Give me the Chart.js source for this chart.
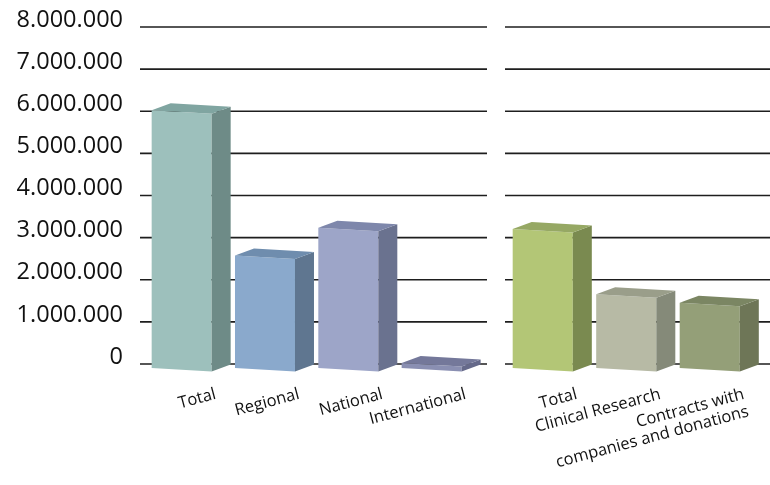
<!DOCTYPE html>
<html>
<head>
<meta charset="utf-8">
<script src="https://cdn.jsdelivr.net/npm/chart.js@4.4.1/dist/chart.umd.min.js"></script>
<style>
  html, body { margin: 0; padding: 0; background: #fff; }
  #wrap { position: relative; width: 770px; height: 485px; }
  #leftChart { position: absolute; left: 0; top: 0; }
  #rightChart { position: absolute; left: 495px; top: 0; }
</style>
</head>
<body>
<div id="wrap">
  <canvas id="leftChart" width="490" height="485"></canvas>
  <canvas id="rightChart" width="275" height="485"></canvas>
</div>
<script>
// data
const leftLabels = ['Total', 'Regional', 'National', 'International'];
const leftValues = [6120000, 2670000, 3330000, 120000];

const rightLabels = ['Total', 'Clinical Research', ['Contracts with', 'companies and donations']];
const rightValues = [3300000, 1750000, 1550000];

const yTicks = [0, 1000000, 2000000, 3000000, 4000000, 5000000, 6000000, 7000000, 8000000];

// colours of the 3d faces
const leftFront = ['#9dc0bc', '#8aa9cc', '#9da5c8', '#8a8fb2'];
const leftSide  = ['#6e8b87', '#5f7690', '#6a728f', '#65698a'];
const leftTop   = ['#80a5a1', '#6f8dae', '#7e87ab', '#74789a'];
const rightFront = ['#b3c676', '#b7baa5', '#949f78'];
const rightSide  = ['#7a8a50', '#858a79', '#6e7657'];
const rightTop   = ['#96a864', '#9a9e8a', '#7b8663'];

const FONT = '"Open Sans", sans-serif';
const DROP = 4, SKEW = 3.5, DX = 19, DY = -7;

function fmt(v) {
    return String(v).replace(/\B(?=(\d{3})+(?!\d))/g, '.');
}

function poly(ctx, pts, color) {
    ctx.beginPath();
    ctx.moveTo(pts[0][0], pts[0][1]);
    for (let i = 1; i < pts.length; i++) ctx.lineTo(pts[i][0], pts[i][1]);
    ctx.closePath();
    ctx.fillStyle = color;
    ctx.fill();
}

// grid lines + 3d bars, drawn instead of the flat bars
const panel3d = {
    id: 'panel3d',
    beforeDatasetsDraw(chart, args, opts) {
        const ctx = chart.ctx;
        const y = chart.scales.y;
        const area = chart.chartArea;
        ctx.save();
        ctx.strokeStyle = '#1e1e1e';
        ctx.lineWidth = 1.6;
        yTicks.forEach(t => {
            const py = y.getPixelForValue(t);
            ctx.beginPath();
            ctx.moveTo(area.left + opts.gridFrom, py);
            ctx.lineTo(opts.gridTo, py);
            ctx.stroke();
        });

        const meta = chart.getDatasetMeta(0);
        meta.data.forEach((bar, i) => {
            const p = bar.getProps(['x', 'y', 'base', 'width'], true);
            const x0 = p.x - p.width / 2, x1 = p.x + p.width / 2;
            const top = p.y + DROP, bot = p.base + DROP;
            const tr = top + SKEW, br = bot + SKEW;
            poly(ctx, [[x0, top], [x1, tr], [x1, br], [x0, bot]], opts.front[i]);
            poly(ctx, [[x1, tr], [x1 + DX, tr + DY], [x1 + DX, br + DY], [x1, br]], opts.side[i]);
            poly(ctx, [[x0, top], [x0 + DX, top + DY], [x1 + DX, tr + DY], [x1, tr]], opts.top[i]);
        });
        ctx.restore();
        return false;
    },
    afterDraw(chart) {
        const ctx = chart.ctx;
        const xs = chart.scales.x;
        ctx.save();
        ctx.font = '16.5px ' + FONT;
        ctx.fillStyle = '#111';
        ctx.textAlign = 'right';
        ctx.textBaseline = 'middle';
        chart.data.labels.forEach((lab, i) => {
            const lines = Array.isArray(lab) ? lab : [lab];
            ctx.save();
            ctx.translate(xs.getPixelForValue(i) + 34, 394);
            ctx.rotate(-15 * Math.PI / 180);
            lines.forEach((l, j) => ctx.fillText(l, 0, j * 18));
            ctx.restore();
        });
        ctx.restore();
    }
};

function makeOptions(showY, padding, plugin3d) {
    const yAxis = {
        display: showY,
        min: 0,
        max: 8000000,
        grid: { display: false, drawTicks: false },
        border: { display: false },
        ticks: {
            stepSize: 1000000,
            padding: 17,
            labelOffset: -7,
            color: '#111',
            font: { family: FONT, size: 23.5 },
            callback: v => fmt(v)
        }
    };
    if (showY) {
        yAxis.afterFit = scale => {
            scale.width = 140;
            scale.paddingTop = 0;
            scale.paddingBottom = 0;
        };
    }
    return {
        responsive: false,
        animation: false,
        layout: { padding: padding },
        plugins: {
            legend: { display: false },
            tooltip: { enabled: false },
            panel3d: plugin3d
        },
        scales: {
            x: { display: false },
            y: yAxis
        }
    };
}

new Chart(document.getElementById('leftChart'), {
    type: 'bar',
    data: {
        labels: leftLabels,
        datasets: [{
            data: leftValues,
            backgroundColor: leftFront,
            barPercentage: 0.72,
            categoryPercentage: 1
        }]
    },
    options: makeOptions(true, { top: 27, bottom: 121, left: 0, right: 16.7 },
        { front: leftFront, side: leftSide, top: leftTop, gridFrom: 0, gridTo: 487 }),
    plugins: [panel3d]
});

new Chart(document.getElementById('rightChart'), {
    type: 'bar',
    data: {
        labels: rightLabels,
        datasets: [{
            data: rightValues,
            backgroundColor: rightFront,
            barPercentage: 0.72,
            categoryPercentage: 1
        }]
    },
    options: makeOptions(false, { top: 27, bottom: 121, left: 6, right: 18.5 },
        { front: rightFront, side: rightSide, top: rightTop, gridFrom: 4, gridTo: 275 }),
    plugins: [panel3d]
});
</script>
</body>
</html>
